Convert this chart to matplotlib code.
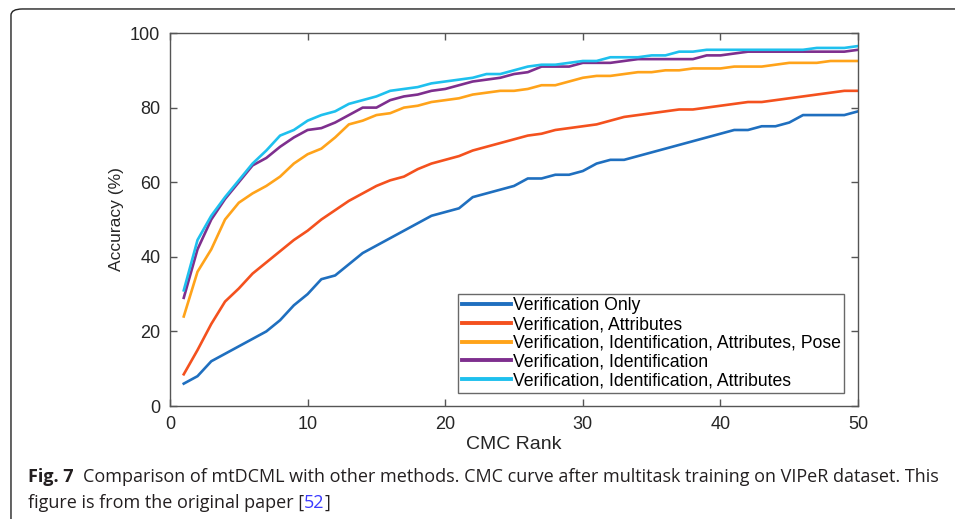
import matplotlib.pyplot as plt
from matplotlib.patches import FancyBboxPatch
import numpy as np

ranks = np.arange(1, 51)

verif_only = [6, 8, 12, 14, 16, 18, 20, 23, 27, 30,
              34, 35, 38, 41, 43, 45, 47, 49, 51, 52,
              53, 56, 57, 58, 59, 61, 61, 62, 62, 63,
              65, 66, 66, 67, 68, 69, 70, 71, 72, 73,
              74, 74, 75, 75, 76, 78, 78, 78, 78, 79]
verif_attr = [8.5, 15, 22, 28, 31.5, 35.5, 38.5, 41.5, 44.5, 47,
              50, 52.5, 55, 57, 59, 60.5, 61.5, 63.5, 65, 66,
              67, 68.5, 69.5, 70.5, 71.5, 72.5, 73, 74, 74.5, 75,
              75.5, 76.5, 77.5, 78, 78.5, 79, 79.5, 79.5, 80, 80.5,
              81, 81.5, 81.5, 82, 82.5, 83, 83.5, 84, 84.5, 84.5]
verif_id_attr_pose = [24, 36, 42, 50, 54.5, 57, 59, 61.5, 65, 67.5,
                      69, 72, 75.5, 76.5, 78, 78.5, 80, 80.5, 81.5, 82,
                      82.5, 83.5, 84, 84.5, 84.5, 85, 86, 86, 87, 88,
                      88.5, 88.5, 89, 89.5, 89.5, 90, 90, 90.5, 90.5, 90.5,
                      91, 91, 91, 91.5, 92, 92, 92, 92.5, 92.5, 92.5]
verif_id = [29, 42, 50, 55.5, 60, 64.5, 66.5, 69.5, 72, 74,
            74.5, 76, 78, 80, 80, 82, 83, 83.5, 84.5, 85,
            86, 87, 87.5, 88, 89, 89.5, 91, 91, 91, 92,
            92, 92, 92.5, 93, 93, 93, 93, 93, 94, 94,
            94.5, 95, 95, 95, 95, 95, 95, 95, 95, 95.5]
verif_id_attr = [31, 44.5, 51, 56, 60.5, 65, 68.5, 72.5, 74, 76.5,
                 78, 79, 81, 82, 83, 84.5, 85, 85.5, 86.5, 87,
                 87.5, 88, 89, 89, 90, 91, 91.5, 91.5, 92, 92.5,
                 92.5, 93.5, 93.5, 93.5, 94, 94, 95, 95, 95.5, 95.5,
                 95.5, 95.5, 95.5, 95.5, 95.5, 95.5, 96, 96, 96, 96.5]

series = [
    ("Verification Only", verif_only, "#1f6fbf"),
    ("Verification, Attributes", verif_attr, "#f4511e"),
    ("Verification, Identification, Attributes, Pose", verif_id_attr_pose, "#ffa31a"),
    ("Verification, Identification", verif_id, "#7e2f8e"),
    ("Verification, Identification, Attributes", verif_id_attr, "#1ec0ee"),
]

fig = plt.figure(figsize=(9.55, 5.19), dpi=100)
ax = fig.add_axes([0.178, 0.2177, 0.7205, 0.7187])

for name, vals, col in series:
    ax.plot(ranks, vals, color=col, lw=1.9, label=name)

ax.set_xlim(0, 50)
ax.set_ylim(0, 100)
ax.set_xticks(range(0, 51, 10))
ax.set_yticks(range(0, 101, 20))
for s in ax.spines.values():
    s.set_color("#555555")
    s.set_linewidth(1.0)
ax.tick_params(direction="in", top=True, right=True, length=5, width=1,
               color="#555555", labelsize=13, labelcolor="#262626", pad=7)
for lbl in ax.get_xticklabels() + ax.get_yticklabels():
    lbl.set_family("Liberation Sans")
ax.set_xlabel("CMC Rank", family="Liberation Sans", fontsize=14,
              color="#262626", labelpad=2)
ax.set_ylabel("Accuracy (%)", family="Liberation Sans", fontsize=12.5,
              color="#262626", labelpad=4)

leg = ax.legend(loc="lower right", bbox_to_anchor=(0.98, 0.035), fancybox=False,
                prop={"family": "Liberation Sans", "size": 12.7}, handlelength=2.8,
                handletextpad=0.1, labelspacing=0.1, borderpad=0.2,
                borderaxespad=0)
leg.get_frame().set_edgecolor("#444444")
leg.get_frame().set_linewidth(1.0)
for h in leg.get_lines():
    h.set_linewidth(2.8)

# rounded frame around the figure panel
frame = FancyBboxPatch((0.0115, -0.1), 1.2, 1.0827, transform=fig.transFigure,
                       boxstyle="round,pad=0,rounding_size=0.012",
                       fill=False, edgecolor="#222222", lw=1.0, clip_on=False)
fig.patches.append(frame)

# caption below the plot
cap_x = 0.0293
cap_y1 = 1 - 477 / 519
cap_y2 = 1 - 503 / 519
cap_fs = 13.0
head = fig.text(cap_x, cap_y1, "Fig. 7", family="Open Sans", weight="bold",
                fontsize=cap_fs, color="#231f20", va="center")
fig.canvas.draw()
hb = head.get_window_extent().transformed(fig.transFigure.inverted())
fig.text(hb.x1 + 9 / 955, cap_y1,
         "Comparison of mtDCML with other methods. CMC curve after multitask "
         "training on VIPeR dataset. This",
         family="Open Sans", fontsize=cap_fs, color="#231f20", va="center")
t = fig.text(cap_x, cap_y2, "figure is from the original paper [",
             family="Open Sans", fontsize=cap_fs, color="#231f20", va="center")
fig.canvas.draw()
bb = t.get_window_extent().transformed(fig.transFigure.inverted())
t2 = fig.text(bb.x1, cap_y2, "52", family="Open Sans", fontsize=cap_fs,
              color="#3b3bff", va="center")
fig.canvas.draw()
bb2 = t2.get_window_extent().transformed(fig.transFigure.inverted())
fig.text(bb2.x1, cap_y2, "]", family="Open Sans", fontsize=cap_fs,
         color="#231f20", va="center")

fig.savefig("out.png", dpi=100)
